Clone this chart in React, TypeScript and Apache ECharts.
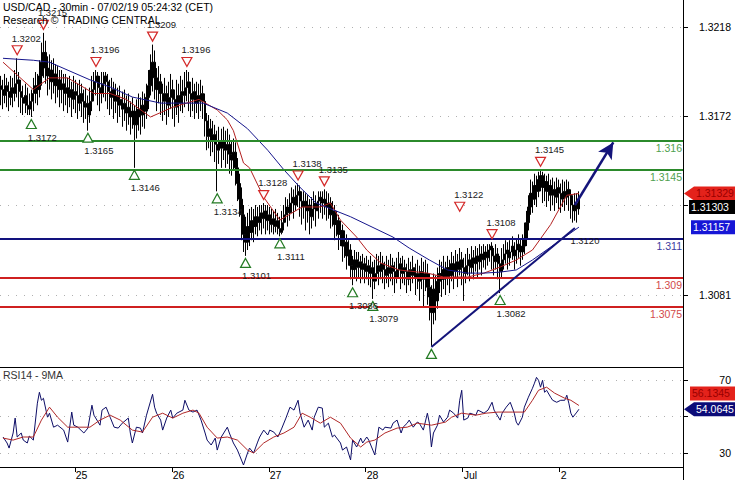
import React, { useEffect, useRef } from 'react';
import * as echarts from 'echarts';

const FONT = '"Liberation Sans", Arial, Helvetica, sans-serif';

// ---- x axis: 30-minute slots, day starts ----
const totalSlots = 338;
const dayLabels = ['25', '26', '27', '28', 'Jul', '2'];
const dayStartIndex = [37, 85, 133, 181, 229, 277];

// ---- price bars, in pips above 1.3000 ----
const firstOpen = 188;
const closes = [
  186, 183, 188, 185, 182, 187, 184, 189, 191, 185,
  182, 179, 183, 178, 176, 180, 184, 188, 186, 193,
  200, 205, 197, 193, 196, 190, 194, 188, 191, 186,
  189, 184, 187, 182, 186, 181, 185, 183, 179, 184,
  180, 177, 179, 173, 180, 186, 190, 193, 187, 184,
  189, 193, 190, 185, 182, 186, 180, 183, 178, 181,
  176, 179, 174, 177, 172, 175, 168, 172, 176, 173,
  178, 175, 182, 188, 196, 200, 192, 186, 190, 184,
  180, 184, 178, 182, 186, 181, 177, 183, 179, 185,
  183, 187, 190, 184, 181, 185, 179, 183, 180, 184,
  180, 170, 162, 166, 160, 163, 158, 155, 160, 156,
  160, 155, 158, 153, 150, 154, 146, 138, 130, 122,
  112, 108, 116, 113, 119, 116, 121, 118, 123, 120,
  124, 119, 122, 117, 120, 116, 119, 115, 113, 118,
  122, 126, 123, 128, 131, 127, 132, 134, 129, 126,
  129, 124, 127, 121, 125, 128, 124, 129, 131, 128,
  130, 126, 128, 122, 124, 117, 119, 112, 114, 106,
  108, 101, 104, 96, 94, 99, 95, 98, 94, 97,
  93, 96, 92, 95, 88, 92, 96, 93, 97, 94,
  91, 95, 92, 96, 93, 90, 94, 97, 92, 95,
  93, 89, 94, 91, 95, 90, 92, 88, 93, 89,
  92, 85, 80, 72, 84, 78, 88, 92, 89, 94,
  90, 95, 91, 97, 93, 98, 94, 99, 95, 92,
  96, 99, 95, 100, 97, 101, 98, 102, 99, 103,
  100, 104, 106, 101, 98, 102, 97, 93, 99, 102,
  104, 100, 103, 106, 101, 104, 107, 103, 106, 110,
  118, 126, 133, 130, 137, 134, 140, 142, 136, 139,
  134, 137, 132, 135, 131, 136, 133, 130, 134, 131,
  135, 132, 127, 124, 128, 125, 130.3,
];
const highs = [
  193, 191, 194, 192, 190, 193, 192, 196, 202, 195,
  191, 188, 189, 187, 184, 186, 192, 195, 194, 201,
  210, 215, 211, 203, 204, 201, 202, 199, 198, 196,
  196, 194, 194, 192, 193, 190, 193, 191, 189, 191,
  189, 186, 187, 183, 187, 193, 195, 196, 195, 193,
  195, 195, 195, 194, 191, 192, 190, 189, 187, 188,
  185, 186, 183, 184, 180, 182, 178, 181, 184, 182,
  185, 184, 189, 196, 204, 209, 206, 197, 198, 194,
  189, 192, 188, 190, 194, 191, 186, 191, 189, 193,
  191, 195, 196, 195, 190, 192, 189, 190, 189, 191,
  188, 184, 174, 173, 171, 170, 168, 165, 167, 166,
  167, 165, 166, 163, 160, 161, 159, 151, 143, 136,
  127, 121, 123, 125, 126, 125, 127, 126, 127, 127,
  128, 127, 127, 126, 125, 124, 125, 123, 121, 124,
  127, 131, 130, 133, 136, 135, 137, 138, 137, 134,
  134, 133, 132, 130, 131, 134, 132, 134, 134, 134,
  135, 134, 133, 131, 129, 127, 124, 122, 119, 117,
  114, 112, 109, 107, 101, 104, 103, 103, 101, 102,
  100, 101, 99, 101, 98, 99, 102, 101, 103, 101,
  98, 101, 99, 102, 100, 98, 100, 103, 100, 101,
  99, 97, 100, 98, 101, 97, 99, 96, 100, 98,
  99, 97, 92, 86, 92, 91, 95, 99, 98, 101,
  98, 101, 99, 103, 101, 104, 102, 105, 103, 100,
  102, 105, 102, 106, 104, 106, 105, 107, 106, 107,
  106, 107, 107, 108, 105, 107, 105, 101, 105, 107,
  109, 108, 109, 111, 108, 110, 112, 110, 112, 118,
  124, 132, 140, 139, 143, 142, 144, 145, 144, 143,
  142, 143, 140, 141, 139, 141, 140, 138, 140, 139,
  140, 139, 135, 132, 133, 133, 134,
];
const lows = [
  178, 176, 179, 177, 175, 178, 177, 180, 182, 177,
  174, 173, 174, 173, 173, 172, 175, 179, 178, 182,
  188, 192, 189, 183, 186, 181, 184, 179, 182, 177,
  179, 175, 178, 174, 177, 172, 176, 174, 171, 175,
  172, 169, 171, 165, 169, 175, 180, 183, 178, 175,
  179, 182, 180, 176, 173, 176, 171, 174, 169, 172,
  167, 170, 165, 168, 163, 166, 146, 161, 165, 163,
  167, 166, 171, 176, 183, 185, 181, 175, 179, 173,
  170, 173, 168, 172, 176, 171, 167, 173, 169, 175,
  174, 177, 180, 175, 172, 175, 171, 174, 171, 175,
  171, 162, 155, 156, 152, 154, 149, 134, 148, 146,
  150, 146, 148, 143, 142, 145, 137, 129, 121, 109,
  103, 101, 104, 106, 109, 108, 112, 111, 114, 112,
  115, 112, 114, 112, 113, 112, 113, 112, 111, 112,
  114, 118, 116, 119, 123, 120, 124, 126, 121, 117,
  120, 114, 118, 112, 115, 119, 116, 120, 123, 120,
  122, 119, 120, 115, 116, 109, 111, 104, 106, 98,
  100, 94, 96, 89, 86, 90, 88, 90, 87, 89,
  87, 89, 86, 85, 79, 84, 88, 86, 89, 87,
  84, 87, 85, 88, 86, 82, 87, 90, 84, 87,
  86, 82, 86, 83, 87, 81, 84, 78, 84, 75,
  83, 76, 68, 55, 66, 68, 74, 82, 80, 84,
  81, 86, 82, 88, 84, 90, 85, 91, 86, 78,
  87, 91, 88, 92, 89, 93, 90, 94, 91, 95,
  94, 96, 98, 94, 91, 94, 89, 82, 90, 94,
  97, 94, 96, 99, 94, 97, 100, 96, 99, 102,
  106, 114, 122, 123, 127, 126, 131, 134, 128, 129,
  126, 129, 124, 127, 124, 128, 125, 123, 126, 124,
  127, 124, 120, 118, 119, 118, 122,
];

// ---- moving averages on price, [slot, pips] ----
const redMA = [
  [1, 200], [16, 186], [24, 192], [33, 192], [46, 184], [54, 184], [62, 181], [74, 172],
  [85, 177], [98, 181], [107, 175.6], [112, 170.5], [115, 165], [120, 148.5], [123, 146],
  [130, 131], [138, 119.3], [149, 126], [158, 126], [163, 128], [168, 119.3], [176, 110.6],
  [181, 104], [188, 97.3], [197, 93.8], [211, 92.2], [219, 90.2], [231, 90.2], [239, 92.2],
  [247, 95.3], [255, 98.9], [263, 104], [272, 117], [280, 132], [286, 132.9],
];
const blueMA = [
  [1, 202], [16, 201], [24, 200], [44, 191], [54, 187.3], [65, 182.2], [79, 179.1], [90, 179.1],
  [100, 179.1], [112, 174], [122, 166], [132, 155], [140, 145], [148, 136], [156, 128],
  [173, 121], [194, 110.6], [202, 105], [212, 98.9], [221, 93.8], [231, 92.2], [239, 92.2],
  [247, 92.7], [255, 93.8], [263, 98.9], [272, 105.5], [286, 115.7],
];

// ---- RSI(14) and its 9MA, [slot, value] ----
const rsi = [
  [1, 38.8], [3, 35.5], [4, 32.7], [6, 41], [7, 49.2], [8, 38.8], [10, 41], [11, 37.1], [13, 35.5], [14, 39.3],
  [16, 37.1], [18, 57.4], [19, 63.4], [20, 59], [21, 60.1], [23, 49.7], [24, 51.9], [26, 44.2], [28, 45.3], [31, 42.6],
  [33, 36], [35, 52.5], [36, 45.3], [38, 44.2], [41, 41], [43, 43.7], [45, 56.3], [46, 50.8], [49, 45.3], [50, 53.6],
  [52, 55.2], [54, 49.7], [56, 44.2], [58, 43.7], [60, 46.4], [63, 49.2], [64, 41], [65, 35.5], [67, 44.2], [69, 43.7],
  [70, 41], [72, 50.8], [75, 62.3], [76, 55.2], [77, 51.9], [79, 48.1], [80, 42.6], [82, 49.2], [84, 53.6], [85, 49.2],
  [87, 51.9], [90, 53.6], [91, 59], [93, 53.6], [95, 52.5], [97, 53.6], [99, 48.1], [101, 41], [102, 37.1], [104, 34.4],
  [106, 38.2], [107, 31.6], [109, 38.8], [112, 44.2], [113, 41], [115, 35.5], [117, 31.6], [120, 23.4], [122, 30], [123, 32.7],
  [125, 30], [127, 36], [128, 38.8], [130, 42.6], [132, 39.9], [133, 42.6], [135, 41.5], [137, 38.8], [139, 43.7], [141, 49.2],
  [143, 55.2], [145, 53.6], [147, 59], [148, 51.9], [150, 44.2], [152, 48.1], [154, 42.6], [155, 49.7], [157, 55.2], [159, 54.7],
  [160, 44.2], [162, 46.4], [164, 38.8], [165, 39.9], [168, 35.5], [169, 31.6], [171, 33.3], [173, 26.2], [174, 37.1], [176, 33.3],
  [178, 38.2], [179, 35.5], [181, 38.8], [182, 37.1], [184, 31.6], [185, 28.9], [187, 44.2], [189, 42.6], [190, 44.2], [193, 43.7],
  [194, 46.4], [196, 48.1], [198, 41], [199, 44.2], [201, 46.4], [202, 48.1], [204, 44.2], [206, 47], [207, 46.4], [209, 42.6],
  [211, 51.9], [212, 46.4], [213, 33.3], [214, 41], [216, 45.3], [217, 50.8], [219, 47], [221, 49.7], [222, 53.6], [224, 51.9],
  [226, 49.2], [227, 59], [228, 64.5], [229, 48.1], [231, 49.2], [232, 51.9], [235, 50.8], [236, 53.6], [239, 51.9], [241, 53.6],
  [243, 57.9], [244, 53.6], [247, 48.1], [248, 51.9], [250, 55.2], [252, 57.9], [254, 51.9], [255, 47], [256, 45.3], [258, 49.7],
  [259, 55.2], [261, 60.7], [263, 65.6], [264, 68.4], [265, 71.6], [266, 70], [267, 66.2], [268, 70], [269, 63.4], [270, 64.5],
  [272, 60.7], [273, 59], [275, 57.9], [277, 59], [279, 59], [280, 61.8], [281, 57.4], [282, 51.9], [283, 49.7], [285, 52.5],
  [286, 54.0645],
];
const rsiMA = [
  [1, 38.2], [6, 37.1], [11, 38.8], [16, 38.8], [20, 48.1], [24, 55.2], [28, 49.7], [33, 44.2], [39, 44.2], [44, 44.2],
  [49, 48.1], [54, 50.8], [59, 48.1], [65, 42.6], [70, 41.5], [75, 49.7], [80, 51.9], [85, 49.2], [90, 51.9], [95, 53.6],
  [98, 51.9], [102, 44.2], [107, 38.2], [112, 38.8], [117, 37.1], [122, 31.6], [125, 30], [130, 35.5], [135, 38.8], [140, 41],
  [145, 44.2], [149, 51.9], [153, 49.7], [158, 46.4], [163, 49.7], [168, 46.4], [173, 38.2], [178, 33.3], [181, 36], [185, 37.1],
  [190, 41], [196, 43.7], [201, 44.2], [206, 46.4], [213, 45.3], [220, 47], [223, 49.7], [228, 51.9], [235, 50.8], [240, 51.9],
  [246, 52.5], [253, 52.5], [259, 52.5], [263, 59], [266, 64.5], [270, 66.2], [274, 62.9], [279, 60.1], [282, 59], [286, 56.1345],
];

// ---- annotations ----
const highMarks = [
  [8, 1.3202], [21, 1.3215], [47, 1.3196], [75, 1.3209], [92, 1.3196], [130, 1.3128],
  [147, 1.3138], [160, 1.3135], [227, 1.3122], [243, 1.3108], [267, 1.3145],
];
const lowMarks = [
  [15, 1.3172], [43, 1.3165], [66, 1.3146], [107, 1.3134], [121, 1.3101], [138, 1.3111],
  [174, 1.3086], [184, 1.3079], [247, 1.3082],
];
const unlabeledLows = [[213, 1.3055]];
const greenLevels = [1.316, 1.3145];
const blueLevels = [1.311];
const redLevels = [1.309, 1.3075];
const trendLine = [[213, 1.30544], [284, 1.31152]];
const trendValue = [285, 1.312];
const projection = [[284, 1.3127], [303, 1.3159]];
const priceTicks = [1.3081, 1.31267, 1.31723, 1.3218];
const priceLabels = [1.3081, 1.31723, 1.3218];
const rsiTicks = [30, 50, 70];
const rsiLabels = [30, 70];
const lastRedMA = 1.31329;
const lastClose = 1.31303;
const lastBlueMA = 1.31157;
const lastRsiMA = 56.1345;
const lastRsi = 54.0645;

const toPrice = (p: number) => Math.round((1.3 + p / 10000) * 100000) / 100000;

export default function App() {
  const ref = useRef<HTMLDivElement>(null);

  useEffect(() => {
    const el = ref.current;
    if (!el) return;
    const chart = echarts.init(el, undefined, { renderer: 'svg', width: 735, height: 480 });

    const cats = Array.from({ length: totalSlots }, (_, i) => String(i));
    const candles = closes.map((c, i) => {
      const o = i === 0 ? firstOpen : closes[i - 1];
      const l = Math.min(lows[i], o, c);
      const h = Math.max(highs[i], o, c);
      return [toPrice(o), toPrice(c), toPrice(l), toPrice(h)];
    });
    const isDayStart = (i: number) => dayStartIndex.indexOf(i) >= 0;

    const downTri = 'path://M0,0L10,0L5,9Z';
    const upTri = 'path://M5,0L10,9L0,9Z';
    const markLabel = { fontSize: 9.5, fontFamily: FONT, color: '#1a1a1a' };

    const levelItem = (v: number, line: string, text: string) => ({
      yAxis: v,
      lineStyle: { color: line, width: 2, type: 'solid' },
      label: {
        show: true, position: 'insideEndBottom', formatter: String(v), color: text,
        fontSize: 10.5, fontFamily: FONT, distance: [1, 2],
      },
    });

    const option: any = {
      animation: false,
      backgroundColor: '#fff',
      title: [
        { text: 'USD/CAD - 30min - 07/02/19 05:24:32 (CET)', left: 3, top: 1, padding: 0,
          textStyle: { fontSize: 10.5, fontWeight: 'normal', color: '#000', fontFamily: FONT } },
        { text: 'Research © TRADING CENTRAL', left: 3, top: 14, padding: 0,
          textStyle: { fontSize: 10.5, fontWeight: 'normal', color: '#000', fontFamily: FONT } },
        { text: 'RSI14 - 9MA', left: 3, top: 369, padding: 0,
          textStyle: { fontSize: 10.5, fontWeight: 'normal', color: '#333', fontFamily: FONT } },
      ],
      grid: [
        { left: 0, right: 52, top: 0, height: 367, outerBoundsMode: 'none' },
        { left: 0, right: 52, top: 367, height: 100, outerBoundsMode: 'none' },
      ],
      xAxis: [
        {
          type: 'category', gridIndex: 0, data: cats, boundaryGap: true,
          axisLine: { show: true, lineStyle: { color: '#000', width: 1 } },
          axisTick: { show: false }, axisLabel: { show: false }, splitLine: { show: false },
        },
        {
          type: 'category', gridIndex: 1, data: cats, boundaryGap: true,
          axisLine: { show: true, lineStyle: { color: '#000', width: 1 } },
          axisTick: { show: true, interval: (i: number) => isDayStart(i), length: 5, lineStyle: { color: '#000' } },
          axisLabel: {
            show: true, interval: (i: number) => isDayStart(i),
            formatter: (_v: string, i: number) => {
              const k = dayStartIndex.indexOf(i);
              return k >= 0 ? dayLabels[k] : '';
            },
            align: 'left', margin: 2, fontSize: 10.5, color: '#000', fontFamily: FONT,
          },
          splitLine: { show: false },
        },
      ],
      yAxis: [
        {
          type: 'value', gridIndex: 0, position: 'right', min: 1.30442, max: 1.32318,
          axisLine: { show: true, lineStyle: { color: '#000', width: 1 } },
          axisTick: { show: true, customValues: priceTicks, length: 5, lineStyle: { color: '#000' } },
          axisLabel: {
            show: true, customValues: priceLabels, formatter: (v: number) => v.toFixed(4),
            margin: 48, align: 'right', fontSize: 10.5, color: '#000', fontFamily: FONT,
          },
          splitLine: { show: true, lineStyle: { color: '#b0b0b0', width: 1, type: [1, 7] } },
        },
        {
          type: 'value', gridIndex: 1, position: 'right', min: 22.3, max: 77.3,
          axisLine: { show: true, lineStyle: { color: '#000', width: 1 } },
          axisTick: { show: true, customValues: rsiTicks, length: 5, lineStyle: { color: '#000' } },
          axisLabel: {
            show: true, customValues: rsiLabels, formatter: (v: number) => String(v),
            margin: 48, align: 'right', fontSize: 10.5, color: '#000', fontFamily: FONT,
          },
          splitLine: { show: true, lineStyle: { color: '#b0b0b0', width: 1, type: [1, 7] } },
        },
      ],
      series: [
        {
          name: 'USD/CAD', type: 'candlestick', xAxisIndex: 0, yAxisIndex: 0,
          data: candles, barWidth: 1.8,
          itemStyle: { color: '#000', color0: '#000', borderColor: '#000', borderColor0: '#000', borderWidth: 1 },
          markLine: {
            silent: true, symbol: 'none', animation: false, precision: 6,
            data: [
              ...greenLevels.map((v) => levelItem(v, '#2b8a2b', '#4f9f4f')),
              ...blueLevels.map((v) => levelItem(v, '#12127e', '#3c3ca0')),
              ...redLevels.map((v) => levelItem(v, '#cf2020', '#d24a4a')),
              [
                { coord: trendLine[0], symbol: 'none', lineStyle: { color: '#14147a', width: 2, type: 'solid' }, label: { show: false } },
                { coord: trendLine[1], symbol: 'none', label: { show: false } },
              ],
              [
                { coord: projection[0], symbol: 'none', lineStyle: { color: '#14147a', width: 2.5, type: 'solid' }, label: { show: false } },
                { coord: projection[1], symbol: 'arrow', symbolSize: [12, 16], label: { show: false } },
              ],
            ],
          },
          markPoint: {
            silent: true, animation: false,
            data: [
              ...highMarks.map(([i, v]) => ({
                coord: [i, v], symbol: downTri, symbolSize: [10, 9], symbolOffset: [0, -8],
                itemStyle: { color: '#fff', borderColor: '#d42a2a', borderWidth: 1.2 },
                label: { show: true, position: 'top', distance: 2, offset: [9, 0], formatter: v.toFixed(4), ...markLabel },
              })),
              ...lowMarks.map(([i, v]) => ({
                coord: [i, v], symbol: upTri, symbolSize: [10, 9], symbolOffset: [0, 7],
                itemStyle: { color: '#fff', borderColor: '#237a23', borderWidth: 1.2 },
                label: { show: true, position: 'bottom', distance: 3, offset: [11, 0], formatter: v.toFixed(4), ...markLabel },
              })),
              ...unlabeledLows.map(([i, v]) => ({
                coord: [i, v], symbol: upTri, symbolSize: [10, 9], symbolOffset: [0, 8],
                itemStyle: { color: '#fff', borderColor: '#237a23', borderWidth: 1.2 },
                label: { show: false },
              })),
              {
                coord: trendValue, symbol: 'circle', symbolSize: 1,
                itemStyle: { color: 'rgba(0,0,0,0)' },
                label: { show: true, position: 'inside', offset: [8, 22], formatter: trendValue[1].toFixed(4), ...markLabel },
              },
            ],
          },
        },
        {
          name: 'MA short', type: 'line', xAxisIndex: 0, yAxisIndex: 0,
          data: redMA.map(([i, p]) => [i, toPrice(p)]), showSymbol: false, symbol: 'none',
          lineStyle: { color: '#b32020', width: 1 }, silent: true,
        },
        {
          name: 'MA long', type: 'line', xAxisIndex: 0, yAxisIndex: 0,
          data: blueMA.map(([i, p]) => [i, toPrice(p)]), showSymbol: false, symbol: 'none',
          lineStyle: { color: '#16168c', width: 1 }, silent: true,
        },
        {
          name: 'RSI14', type: 'line', xAxisIndex: 1, yAxisIndex: 1,
          data: rsi, showSymbol: false, symbol: 'none',
          lineStyle: { color: '#0d0d66', width: 1 }, silent: true,
        },
        {
          name: '9MA', type: 'line', xAxisIndex: 1, yAxisIndex: 1,
          data: rsiMA, showSymbol: false, symbol: 'none',
          lineStyle: { color: '#b02828', width: 1 }, silent: true,
        },
      ],
    };

    chart.setOption(option);

    const boxes = [
      { axis: 0, value: lastRedMA, text: lastRedMA.toFixed(5), bg: '#e4221b', fg: '#9a0000', arrow: true, left: 694, dy: 0 },
      { axis: 0, value: lastClose, text: lastClose.toFixed(5), bg: '#000000', fg: '#ffffff', arrow: false, left: 689, dy: 8.5 },
      { axis: 0, value: lastBlueMA, text: lastBlueMA.toFixed(5), bg: '#1616d6', fg: '#ffffff', arrow: false, left: 691, dy: 0 },
      { axis: 1, value: lastRsiMA, text: lastRsiMA.toFixed(4), bg: '#e4221b', fg: '#9a0000', arrow: false, left: 690, dy: -12 },
      { axis: 1, value: lastRsi, text: lastRsi.toFixed(4), bg: '#0b0b78', fg: '#ffffff', arrow: true, left: 694, dy: 0 },
    ];
    const graphics: any[] = [];
    boxes.forEach((b) => {
      const y = (chart.convertToPixel({ yAxisIndex: b.axis } as any, b.value) as number) + b.dy;
      if (b.arrow) {
        graphics.push({
          type: 'polygon', silent: true, z: 100,
          shape: { points: [[684, y], [b.left, y - 7], [735, y - 7], [735, y + 7], [b.left, y + 7]] },
          style: { fill: b.bg },
        });
      } else {
        graphics.push({
          type: 'rect', silent: true, z: 100,
          shape: { x: b.left, y: y - 7, width: 735 - b.left, height: 14 },
          style: { fill: b.bg },
        });
      }
      graphics.push({
        type: 'text', silent: true, z: 101, x: b.left + 2, y,
        style: { text: b.text, fill: b.fg, font: `10.5px ${FONT}`, textVerticalAlign: 'middle', verticalAlign: 'middle' },
      });
    });
    graphics.push({
      type: 'line', silent: true, z: 99,
      shape: { x1: 683.5, y1: 0, x2: 683.5, y2: 480 },
      style: { stroke: '#000', lineWidth: 1 },
    });
    chart.setOption({ graphic: graphics });

    return () => chart.dispose();
  }, []);

  return (
    <div
      ref={ref}
      style={{ position: 'fixed', left: 0, top: 0, width: 735, height: 480, background: '#fff' }}
    />
  );
}
